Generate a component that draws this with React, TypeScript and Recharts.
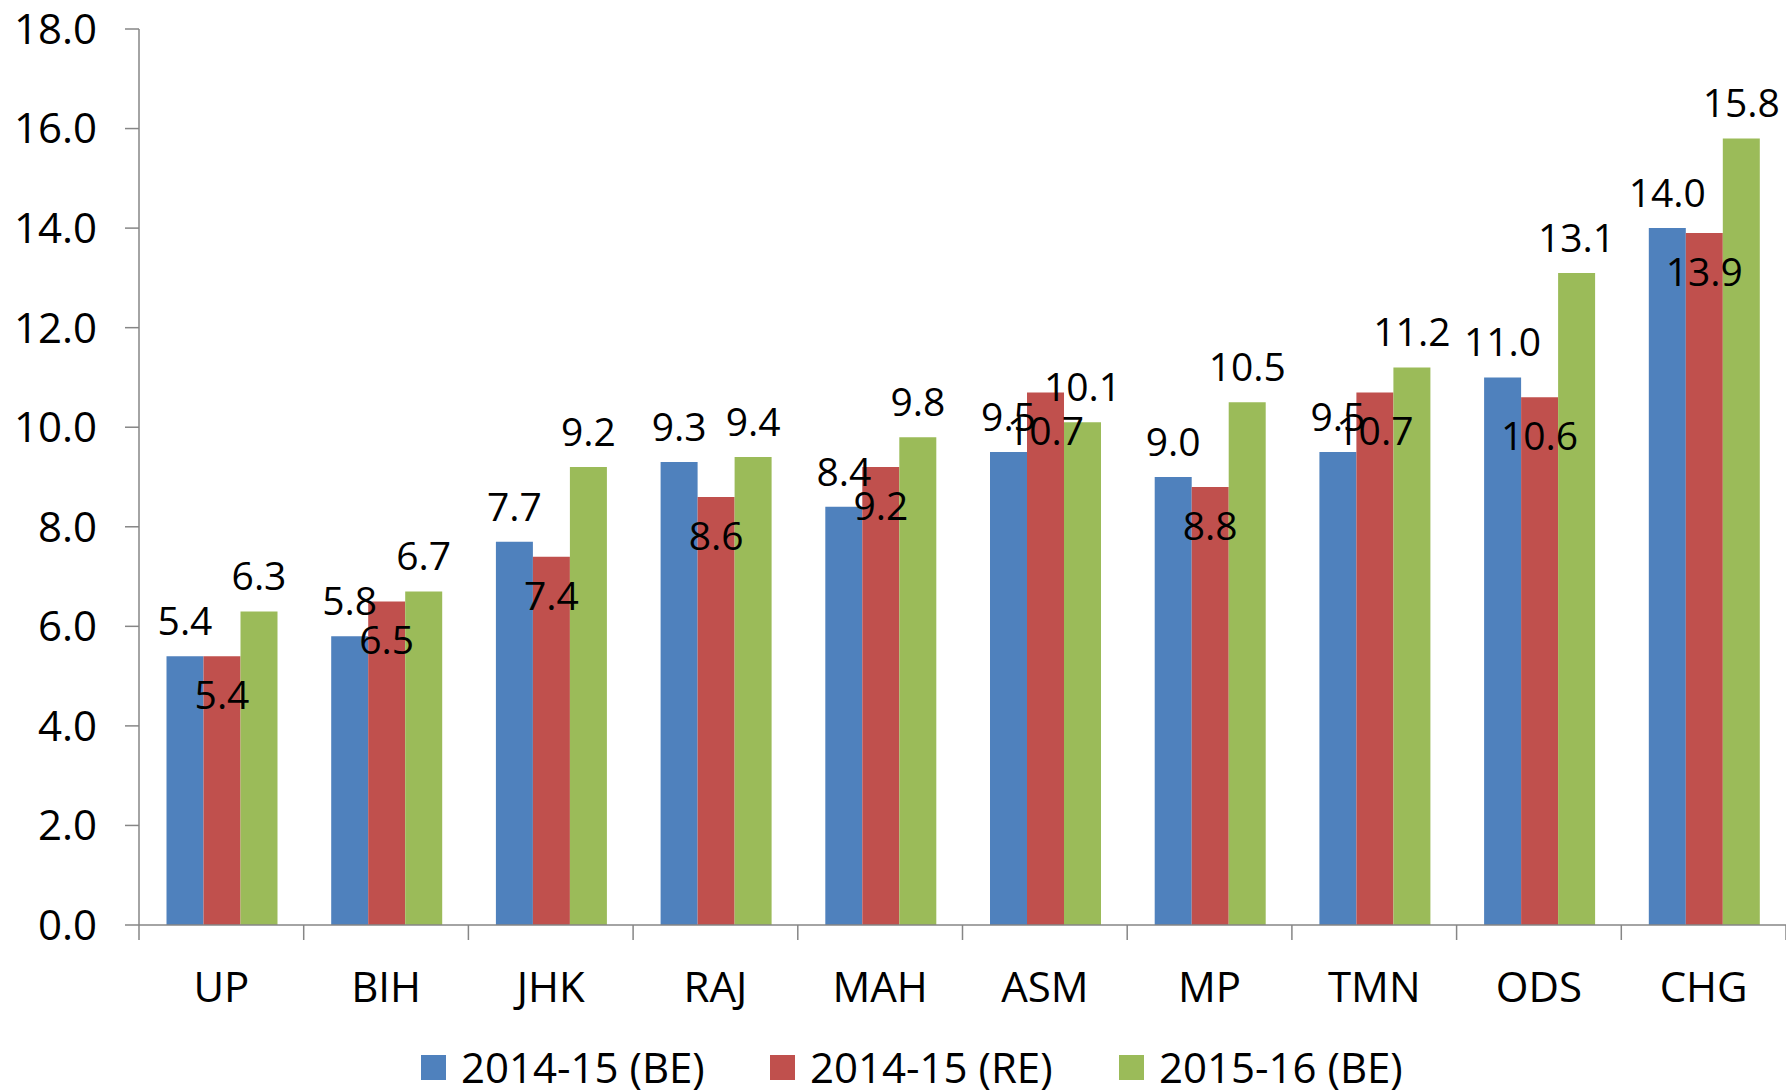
import { BarChart, Bar, XAxis, YAxis, Legend, LabelList } from "recharts";

const categories = ["UP", "BIH", "JHK", "RAJ", "MAH", "ASM", "MP", "TMN", "ODS", "CHG"];
const be1415 = [5.4, 5.8, 7.7, 9.3, 8.4, 9.5, 9.0, 9.5, 11.0, 14.0];
const re1415 = [5.4, 6.5, 7.4, 8.6, 9.2, 10.7, 8.8, 10.7, 10.6, 13.9];
const be1516 = [6.3, 6.7, 9.2, 9.4, 9.8, 10.1, 10.5, 11.2, 13.1, 15.8];
const yTicks = [0, 2, 4, 6, 8, 10, 12, 14, 16, 18];

const seriesNames = ["2014-15 (BE)", "2014-15 (RE)", "2015-16 (BE)"];
const COLORS = ["#4F81BD", "#C0504D", "#9BBB59"];

const WIDTH = 1786;
const HEIGHT = 1090;
const LEFT = 139;
const TOP = 29;
const FONT = "'Open Sans', sans-serif";
const AXIS = "#868686";

const data = categories.map((name, i) => ({
  name,
  be1415: be1415[i],
  re1415: re1415[i],
  be1516: be1516[i],
}));

const band = (WIDTH - LEFT) / categories.length;

// ticks between categories, label centred under the group
const CategoryTick = (props: any) => {
  const { x, y, payload, index } = props;
  const left = x - band / 2;
  return (
    <g>
      <line x1={left} y1={y} x2={left} y2={y + 15} stroke={AXIS} strokeWidth={1.5} />
      {index === categories.length - 1 && (
        <line x1={x + band / 2} y1={y} x2={x + band / 2} y2={y + 15} stroke={AXIS} strokeWidth={1.5} />
      )}
      <text x={x} y={y + 77} textAnchor="middle" fontSize={42} fontFamily={FONT} fill="#000">
        {payload.value}
      </text>
    </g>
  );
};

const makeLabel = (inside: boolean) => (props: any) => {
  const { x, y, width, value } = props;
  const fs = 39;
  const by = inside ? y + 39 + fs * 0.357 : y - 35 + fs * 0.357;
  return (
    <text x={x + width / 2} y={by} textAnchor="middle" fontSize={fs} fontFamily={FONT} fill="#000">
      {Number(value).toFixed(1)}
    </text>
  );
};

const LegendBox = () => (
  <div style={{ display: "flex", height: 40, paddingLeft: 421, fontFamily: FONT, fontSize: 42 }}>
    {seriesNames.map((s, i) => (
      <div key={s} style={{ display: "flex", alignItems: "center", width: 349 }}>
        <span style={{ width: 25, height: 25, background: COLORS[i], marginRight: 15 }} />
        <span style={{ lineHeight: "40px", whiteSpace: "nowrap" }}>{s}</span>
      </div>
    ))}
  </div>
);

export default function App() {
  return (
    <div style={{ position: "absolute", left: 0, top: 0, background: "#fff" }}>
      <BarChart
        width={WIDTH}
        height={HEIGHT}
        data={data}
        margin={{ top: TOP, right: 0, left: 0, bottom: 3 }}
        barCategoryGap="16.7%"
        barGap={0}
      >
        <XAxis
          dataKey="name"
          height={122}
          stroke={AXIS}
          strokeWidth={1.5}
          tickLine={false}
          tickSize={0}
          tickMargin={0}
          interval={0}
          tick={<CategoryTick />}
        />
        <YAxis
          width={LEFT}
          domain={[0, 18]}
          ticks={yTicks}
          stroke={AXIS}
          strokeWidth={1.5}
          tickSize={14}
          tickMargin={28}
          tickFormatter={(v: number) => v.toFixed(1)}
          tick={{ fill: "#000", fontSize: 42, fontFamily: FONT }}
          allowDataOverflow
        />
        <Legend verticalAlign="bottom" content={<LegendBox />} />
        <Bar dataKey="be1415" name={seriesNames[0]} fill={COLORS[0]} isAnimationActive={false}>
          <LabelList dataKey="be1415" content={makeLabel(false)} />
        </Bar>
        <Bar dataKey="re1415" name={seriesNames[1]} fill={COLORS[1]} isAnimationActive={false}>
          <LabelList dataKey="re1415" content={makeLabel(true)} />
        </Bar>
        <Bar dataKey="be1516" name={seriesNames[2]} fill={COLORS[2]} isAnimationActive={false}>
          <LabelList dataKey="be1516" content={makeLabel(false)} />
        </Bar>
      </BarChart>
    </div>
  );
}
